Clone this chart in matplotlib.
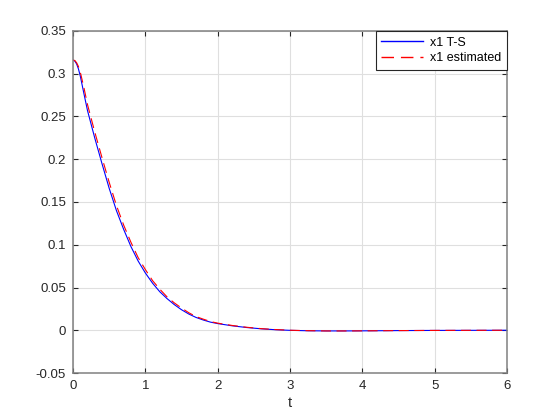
import numpy as np
from matplotlib import pyplot as plt

# values
t = [0, 0.025, 0.05, 0.075, 0.1, 0.15, 0.2, 0.3, 0.4, 0.5, 0.6, 0.7, 0.8, 0.9, 1.0,
     1.1, 1.2, 1.3, 1.4, 1.5, 1.6, 1.7, 1.8, 1.9, 2.0, 2.2, 2.4, 2.6, 2.8, 3.0,
     3.25, 3.5, 3.75, 4.0, 4.5, 5.0, 5.5, 6.0]
x1_ts = [0.316, 0.3148, 0.3114, 0.3056, 0.2975, 0.277, 0.257, 0.225, 0.195, 0.166,
         0.140, 0.118, 0.098, 0.081, 0.067, 0.055, 0.045, 0.037, 0.030, 0.024,
         0.019, 0.015, 0.012, 0.0095, 0.0078, 0.0052, 0.0032, 0.0017, 0.0006,
         -0.0001, -0.0006, -0.0008, -0.0008, -0.0007, -0.0004, -0.0002, -0.0001, 0.0]
x1_est = [0.316, 0.3155, 0.3128, 0.3085, 0.302, 0.284, 0.264, 0.232, 0.202, 0.173,
          0.146, 0.123, 0.103, 0.085, 0.071, 0.058, 0.048, 0.039, 0.032, 0.026,
          0.0205, 0.016, 0.013, 0.0102, 0.0083, 0.0056, 0.0035, 0.0019, 0.0008,
          0.0, -0.0005, -0.0008, -0.0008, -0.0007, -0.0004, -0.0002, -0.0001, 0.0]

xticks = [0, 1, 2, 3, 4, 5, 6]
yticks = [-0.05, 0, 0.05, 0.1, 0.15, 0.2, 0.25, 0.3, 0.35]
ylabels = ["-0.05", "0", "0.05", "0.1", "0.15", "0.2", "0.25", "0.3", "0.35"]

plt.rcParams['font.family'] = ['Liberation Sans', 'DejaVu Sans']

fig = plt.figure(figsize=(5.6, 4.2), dpi=100)
ax = fig.add_axes([0.1304, 0.1119, 0.775, 0.8143])

ax.plot(t, x1_ts, color=(0, 0, 1), lw=0.8, label="x1 T-S")
ax.plot(t, x1_est, color=(1, 0, 0), lw=0.8, dashes=(9, 5), label="x1 estimated")

ax.set_xlim(0, 6)
ax.set_ylim(-0.05, 0.35)
ax.set_xticks(xticks)
ax.set_yticks(yticks)
ax.set_yticklabels(ylabels)
ax.grid(True, color='#dfdfdf', lw=0.8)
ax.set_axisbelow(True)
ax.tick_params(direction='in', length=3.5, width=0.8, colors='0.15',
               labelsize=9.5, top=True, right=True, pad=5)
for s in ax.spines.values():
    s.set_color('0.5')
    s.set_linewidth(1.1)
ax.set_xlabel("t", fontsize=10.5, color='0.15', labelpad=3)

leg = ax.legend(loc='upper right', bbox_to_anchor=(1, 1), borderaxespad=0,
                fontsize=9, handlelength=3.3, handletextpad=0.6, fancybox=False,
                framealpha=1, edgecolor='0.15', borderpad=0.45, labelspacing=0.3)
leg.get_frame().set_linewidth(0.8)
for ln in leg.get_lines():
    ln.set_linewidth(1.0)

fig.savefig("out.png", dpi=100)
